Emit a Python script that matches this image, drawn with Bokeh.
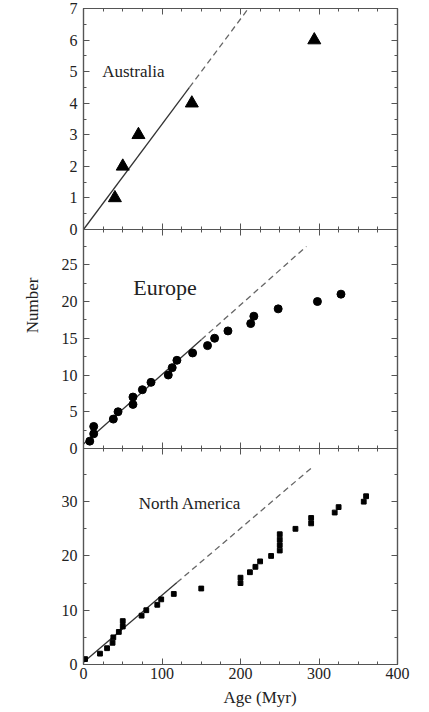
from bokeh.plotting import figure
from bokeh.layouts import column
from bokeh.models import LinearAxis, Label, SingleIntervalTicker, Range1d, Title, CustomLabelingPolicy
from bokeh.embed import file_html
from bokeh.resources import INLINE

# ---- data ----
aus_age = [40, 50, 70, 138, 294]
aus_num = [1, 2, 3, 4, 6]
aus_fit_x = [0, 135, 210]
aus_fit_y = [0, 4.5, 7.0]

eur_age = [8, 13, 13, 38, 44, 63, 63, 75, 86, 108, 113, 119, 139, 158, 167, 184, 213, 217, 248, 298, 328]
eur_num = [1, 2, 3, 4, 5, 6, 7, 8, 9, 10, 11, 12, 13, 14, 15, 16, 17, 18, 19, 20, 21]
eur_fit_x = [0, 150, 284]
eur_fit_y = [0.6, 14.8, 27.5]

na_age = [2, 21, 30, 37, 38, 45, 50, 50, 74, 80, 94, 99, 115, 150, 200, 200, 212, 219, 225, 239,
          250, 250, 250, 250, 270, 290, 290, 320, 325, 357, 360]
na_num = [1, 2, 3, 4, 5, 6, 7, 8, 9, 10, 11, 12, 13, 14, 15, 16, 17, 18, 19, 20,
          21, 22, 23, 24, 25, 26, 27, 28, 29, 30, 31]
na_fit_x = [0, 119, 291]
na_fit_y = [0.4, 15.1, 36.3]

x_max = 400
FONT = "Liberation Serif"
FRAME = "#555555"
TXT = "#222222"
OVER = 9  # bottom overlap so that the "0" tick labels are not cut


def style_axis(ax, show_labels, standoff=4):
    ax.axis_line_color = FRAME
    ax.axis_line_width = 1.2
    ax.major_tick_line_color = FRAME
    ax.minor_tick_line_color = FRAME
    ax.major_tick_in = 6
    ax.major_tick_out = 0
    ax.minor_tick_in = 3
    ax.minor_tick_out = 0
    ax.major_label_text_font = FONT
    ax.major_label_text_color = TXT
    if show_labels:
        ax.major_label_text_font_size = "16px"
        ax.major_label_standoff = standoff
    else:
        ax.major_label_text_font_size = "0px"
        ax.major_label_standoff = 0
        ax.major_label_policy = CustomLabelingPolicy(code="return []")


def make_panel(height, y_end, y_interval, y_minor, top_b, bot_b, show_x, margin):
    p = figure(width=429, height=height, x_range=Range1d(0, x_max), y_range=Range1d(0, y_end),
               output_backend="svg", toolbar_location=None, margin=margin,
               min_border_left=83, min_border_right=32, min_border_top=top_b, min_border_bottom=bot_b)
    p.grid.visible = False
    p.outline_line_color = FRAME
    p.outline_line_width = 1.2
    p.border_fill_color = None
    p.background_fill_color = None

    p.xaxis.ticker = SingleIntervalTicker(interval=100, num_minor_ticks=4)
    p.yaxis.ticker = SingleIntervalTicker(interval=y_interval, num_minor_ticks=y_minor)
    style_axis(p.xaxis[0], show_x, standoff=3)
    style_axis(p.yaxis[0], True, standoff=6)

    top = LinearAxis(ticker=SingleIntervalTicker(interval=100, num_minor_ticks=4))
    style_axis(top, False)
    p.add_layout(top, "above")
    right = LinearAxis(ticker=SingleIntervalTicker(interval=y_interval, num_minor_ticks=y_minor))
    style_axis(right, False)
    p.add_layout(right, "right")
    return p


# Australia
p1 = make_panel(229 + OVER, 7, 1, 2, 8, OVER, False, (0, 0, -OVER, 0))
p1.line(aus_fit_x[:2], aus_fit_y[:2], line_color="#333333", line_width=1.3)
p1.line(aus_fit_x[1:], aus_fit_y[1:], line_color="#666666", line_width=1.3, line_dash="6 4")
p1.scatter(aus_age, aus_num, marker="triangle", size=13, fill_color="black", line_color="black")
p1.add_layout(Label(x=23.8, y=5.0, text="Australia", text_font=FONT, text_font_size="17px",
                    text_color=TXT, text_baseline="middle", text_align="left"))

# Europe
p2 = make_panel(219 + OVER, 29.8, 5, 2, 0, OVER, False, (0, 0, -OVER, 0))
p2.line(eur_fit_x[:2], eur_fit_y[:2], line_color="#333333", line_width=1.3)
p2.line(eur_fit_x[1:], eur_fit_y[1:], line_color="#666666", line_width=1.3, line_dash="6 4")
p2.scatter(eur_age, eur_num, marker="circle", size=8, fill_color="black", line_color="black")
p2.add_layout(Label(x=63.3, y=21.9, text="Europe", text_font=FONT, text_font_size="22px",
                    text_color=TXT, text_baseline="middle", text_align="left"))
p2.add_layout(Title(text="Number", align="right", offset=48, standoff=33, text_font=FONT,
                    text_font_size="17px", text_font_style="normal", text_color=TXT), "left")

# North America
p3 = make_panel(264, 39.8, 10, 2, 0, 48, True, (0, 0, 0, 0))
p3.line(na_fit_x[:2], na_fit_y[:2], line_color="#333333", line_width=1.3)
p3.line(na_fit_x[1:], na_fit_y[1:], line_color="#666666", line_width=1.3, line_dash="6 4")
p3.scatter(na_age, na_num, marker="square", size=4.8, fill_color="black", line_color="black")
p3.add_layout(Label(x=70.4, y=29.6, text="North America", text_font=FONT, text_font_size="17px",
                    text_color=TXT, text_baseline="middle", text_align="left"))
p3.add_layout(Title(text="Age (Myr)", align="left", offset=140, standoff=8, text_font=FONT,
                    text_font_size="17px", text_font_style="normal", text_color=TXT), "below")

layout = column(p1, p2, p3, spacing=0)
open("out.html", "w").write(file_html(layout, INLINE))
